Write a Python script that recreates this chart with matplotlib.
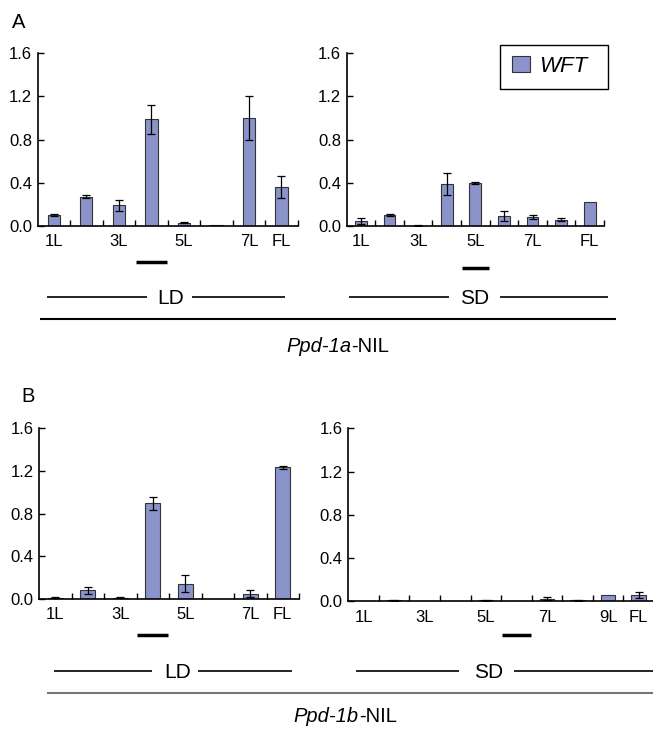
import numpy as np
import matplotlib
matplotlib.use('Agg')
import matplotlib.pyplot as plt
import matplotlib.transforms as mtransforms
from matplotlib.lines import Line2D
from matplotlib.patches import Rectangle

plt.rcParams['font.family'] = ['Liberation Sans', 'DejaVu Sans']

# WFT expression, Ppd-1a-NIL
a_ld_labels = ['1L', '', '3L', '', '5L', '', '7L', 'FL']
a_ld_mean = [0.10, 0.27, 0.19, 0.99, 0.03, 0.01, 1.00, 0.36]
a_ld_err = [0.01, 0.015, 0.05, 0.135, 0.006, 0.0, 0.20, 0.10]
a_ld_mark = 3

a_sd_labels = ['1L', '', '3L', '', '5L', '', '7L', '', 'FL']
a_sd_mean = [0.045, 0.10, 0.004, 0.39, 0.40, 0.09, 0.085, 0.06, 0.22]
a_sd_err = [0.03, 0.01, 0.003, 0.10, 0.01, 0.045, 0.02, 0.015, 0.0]
a_sd_mark = 4

# WFT expression, Ppd-1b-NIL
b_ld_labels = ['1L', '', '3L', '', '5L', '', '7L', 'FL']
b_ld_mean = [0.01, 0.078, 0.01, 0.895, 0.14, 0.001, 0.047, 1.233]
b_ld_err = [0.002, 0.035, 0.002, 0.062, 0.08, 0.0, 0.03, 0.015]
b_ld_mark = 3

b_sd_labels = ['1L', '', '3L', '', '5L', '', '7L', '', '9L', 'FL']
b_sd_mean = [0.002, 0.01, 0.002, 0.002, 0.008, 0.002, 0.025, 0.01, 0.06, 0.06]
b_sd_err = [0.0, 0.003, 0.0, 0.0, 0.002, 0.0, 0.015, 0.003, 0.0, 0.03]
b_sd_mark = 5

BAR = '#8A93CA'
EDGE = '#333333'
W, H = 653, 730

fig = plt.figure(figsize=(W / 100, H / 100), dpi=100)


def add_ax(left, right, top, bottom):
    return fig.add_axes([left / W, 1 - bottom / H, (right - left) / W, (bottom - top) / H])


def panel(ax, means, errs, labels, width, mark, mark_off):
    x = np.arange(len(means))
    means = np.array(means)
    errs = np.array(errs)
    ax.bar(x, means, width=width, color=BAR, edgecolor=EDGE, linewidth=0.8, zorder=2)
    m = errs > 0
    ax.errorbar(x[m], means[m], yerr=errs[m], fmt='none', ecolor='black',
                elinewidth=0.9, capsize=3, capthick=0.9, zorder=3)
    ax.set_xlim(-0.5, len(means) - 0.5)
    ax.set_ylim(0, 1.6)
    ax.set_yticks([0, 0.4, 0.8, 1.2, 1.6])
    ax.set_yticklabels(['0.0', '0.4', '0.8', '1.2', '1.6'])
    ax.set_xticks(x + 0.5)
    ax.set_xticklabels([])
    ax.set_xticks(x, minor=True)
    ax.set_xticklabels(labels, minor=True)
    ax.tick_params(axis='x', which='major', direction='in', length=4, width=1)
    ax.tick_params(axis='x', which='minor', length=0, pad=6, labelsize=12)
    ax.tick_params(axis='y', direction='in', length=4, width=1, pad=4, labelsize=12)
    for s in ['top', 'right']:
        ax.spines[s].set_visible(False)
    for s in ['left', 'bottom']:
        ax.spines[s].set_linewidth(1.2)
    trans = mtransforms.blended_transform_factory(ax.transData, ax.transAxes)
    ax.plot([mark - 0.47, mark + 0.47], [mark_off, mark_off], transform=trans,
            color='black', lw=2.5, clip_on=False, solid_capstyle='butt')


ax1 = add_ax(37.5, 297.7, 53.3, 226)
panel(ax1, a_ld_mean, a_ld_err, a_ld_labels, 0.38, a_ld_mark, -36 / 172.7)
ax2 = add_ax(346.7, 604, 53.3, 226)
panel(ax2, a_sd_mean, a_sd_err, a_sd_labels, 0.41, a_sd_mark, -42 / 172.7)
ax3 = add_ax(39, 299, 428.3, 598.7)
panel(ax3, b_ld_mean, b_ld_err, b_ld_labels, 0.45, b_ld_mark, -36 / 170.4)
ax4 = add_ax(348.3, 654, 428.3, 601.3)
panel(ax4, b_sd_mean, b_sd_err, b_sd_labels, 0.48, b_sd_mark, -34 / 173)

# legend
leg_handle = Rectangle((0, 0), 1, 1, facecolor=BAR, edgecolor=EDGE, linewidth=0.8)
fig.legend([leg_handle], ['WFT'], loc='center left',
           bbox_to_anchor=(512 / W, 1 - 66 / H), frameon=False,
           prop={'style': 'italic', 'size': 16}, handlelength=0.8,
           handleheight=0.75, handletextpad=0.4, borderpad=0, borderaxespad=0)
fig.add_artist(Rectangle((500 / W, 1 - 89 / H), 108 / W, 44 / H, transform=fig.transFigure,
                         fill=False, edgecolor='black', linewidth=1.0))


def hline(x0, x1, y, color='black', lw=1.2):
    fig.add_artist(Line2D([x0 / W, x1 / W], [1 - y / H, 1 - y / H], transform=fig.transFigure,
                          color=color, lw=lw, solid_capstyle='butt'))


def ftext(x, y, s, **kw):
    return fig.text(x / W, 1 - y / H, s, **kw)


renderer = fig.canvas.get_renderer()


def line_name(cx, y, italic_part, plain_part, size):
    t1 = ftext(0, y, italic_part, fontsize=size, style='italic', ha='left', va='center')
    t2 = ftext(0, y, plain_part, fontsize=size, ha='left', va='center')
    w1 = t1.get_window_extent(renderer).width
    w2 = t2.get_window_extent(renderer).width
    x0 = cx - (w1 + w2) / 2
    t1.set_x(x0 / W)
    t2.set_x((x0 + w1) / W)


# panel letters
ftext(12, 23, 'A', fontsize=14.5, va='center', ha='left')
ftext(21, 396, 'B', fontsize=14.5, va='center', ha='left')

# condition brackets, panel A
hline(47, 147, 296.7)
hline(192, 285, 296.7)
ftext(171, 298, 'LD', fontsize=15, ha='center', va='center')
hline(349, 449, 296.7)
hline(500, 608, 296.7)
ftext(475, 298, 'SD', fontsize=15, ha='center', va='center')
hline(40, 616, 319, lw=1.5)
line_name(338, 347, 'Ppd-1a', '-NIL', 14.5)

# condition brackets, panel B
hline(54, 152, 670.7)
hline(198, 292, 670.7)
ftext(178, 672, 'LD', fontsize=15, ha='center', va='center')
hline(356, 459, 670.7)
hline(514, 653, 670.7)
ftext(489, 672, 'SD', fontsize=15, ha='center', va='center')
hline(47, 653, 692.7, color='#777777', lw=1.5)
line_name(345, 717, 'Ppd-1b', '-NIL', 14.5)

fig.savefig('out.png', dpi=100)
